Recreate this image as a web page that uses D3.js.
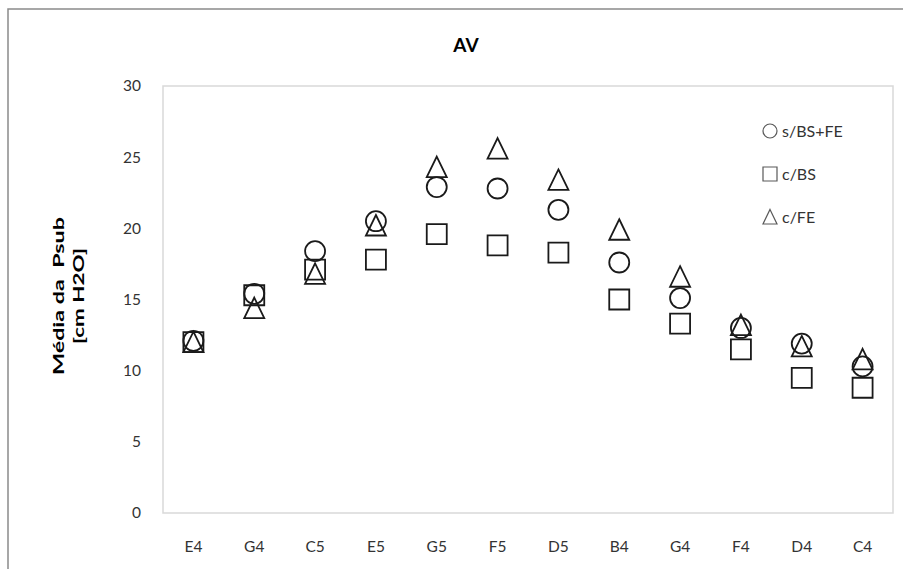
<!DOCTYPE html>
<html>
<head>
<meta charset="utf-8">
<script src="https://cdn.jsdelivr.net/npm/d3@7"></script>
<style>
  html, body { margin: 0; padding: 0; background: #fff; }
  svg { display: block; }
  text { font-family: Lato, "Open Sans", sans-serif; }
</style>
</head>
<body>
<svg id="chart" width="903" height="569"></svg>
<script>
// Notes played, in order
const notes = ["E4", "G4", "C5", "E5", "G5", "F5", "D5", "B4", "G4", "F4", "D4", "C4"];
// Mean subglottal pressure (cm H2O) per condition
const semBSFE = [12.1, 15.4, 18.4, 20.5, 22.9, 22.8, 21.3, 17.6, 15.1, 13.0, 11.9, 10.3];
const comBS   = [12.0, 15.3, 17.1, 17.8, 19.6, 18.8, 18.3, 15.0, 13.3, 11.5, 9.5, 8.8];
const comFE   = [12.0, 14.4, 16.8, 20.2, 24.3, 25.6, 23.4, 19.9, 16.6, 13.2, 11.7, 10.8];
const yTicks = [0, 5, 10, 15, 20, 25, 30];
const seriesNames = ["s/BS+FE", "c/BS", "c/FE"];

const series = [
  { name: seriesNames[0], values: semBSFE, shape: "circle" },
  { name: seriesNames[1], values: comBS, shape: "square" },
  { name: seriesNames[2], values: comFE, shape: "triangle" }
];

const svg = d3.select("#chart");
const plot = { left: 163, right: 893, top: 86, bottom: 513 };

// Outer chart frame
svg.append("rect")
  .attr("x", 8).attr("y", 9).attr("width", 920).attr("height", 600)
  .attr("fill", "#fff").attr("stroke", "#8a8a8a").attr("stroke-width", 1.5);

const x = d3.scaleBand().domain(d3.range(notes.length)).range([plot.left, plot.right]);
const y = d3.scaleLinear().domain([0, 30]).range([plot.bottom, plot.top]);

// Plot area border
svg.append("rect")
  .attr("x", plot.left).attr("y", plot.top)
  .attr("width", plot.right - plot.left).attr("height", plot.bottom - plot.top)
  .attr("fill", "none").attr("stroke", "#d9d9d9").attr("stroke-width", 1.5);

// Y axis tick labels
const yAxis = d3.axisLeft(y).tickValues(yTicks).tickSize(0).tickPadding(22);
svg.append("g").attr("transform", `translate(${plot.left},0)`).call(yAxis)
  .call(g => g.select(".domain").remove())
  .call(g => g.selectAll("text").attr("fill", "#333").style("font-size", "15.5px")
    .style("font-family", "Lato, 'Open Sans', sans-serif"));

// X axis category labels
const xAxis = d3.axisBottom(x).tickFormat(i => notes[i]).tickSize(0).tickPadding(28);
svg.append("g").attr("transform", `translate(0,${plot.bottom})`).call(xAxis)
  .call(g => g.select(".domain").remove())
  .call(g => g.selectAll("text").attr("fill", "#333").style("font-size", "15.5px")
    .style("font-family", "Lato, 'Open Sans', sans-serif"));

// Title
svg.append("text").attr("x", 466).attr("y", 52).attr("text-anchor", "middle")
  .attr("font-size", 19).attr("font-weight", "bold").attr("fill", "#000").text("AV");

// Y axis title, two lines
const yTitle = svg.append("text")
  .attr("transform", "translate(64,296) rotate(-90)")
  .attr("text-anchor", "middle").attr("font-size", 16).attr("font-weight", "bold").attr("fill", "#000");
yTitle.append("tspan").attr("x", 0).attr("dy", 0)
  .attr("textLength", 158).attr("lengthAdjust", "spacingAndGlyphs").text("Média da\u00a0 Psub");
yTitle.append("tspan").attr("x", 0).attr("dy", 20)
  .attr("textLength", 96).attr("lengthAdjust", "spacingAndGlyphs").text("[cm H2O]");

// Marker path generator, centred at origin
function markerPath(shape, s) {
  const h = s / 2;
  if (shape === "circle") {
    return `M${h},0 A${h},${h} 0 1,1 ${-h},0 A${h},${h} 0 1,1 ${h},0 Z`;
  }
  if (shape === "square") {
    return `M${-h},${-h} H${h} V${h} H${-h} Z`;
  }
  return `M0,${-h - 0.5} L${h},${h} L${-h},${h} Z`;
}

const cx = i => x(i) + x.bandwidth() / 2;

// Draw series: triangles first, then squares, then circles on top
[series[2], series[1], series[0]].forEach(s => {
  svg.append("g").selectAll("path").data(s.values).join("path")
    .attr("transform", (d, i) => `translate(${cx(i)},${y(d)})`)
    .attr("d", markerPath(s.shape, 20))
    .attr("fill", "none").attr("stroke", "#1a1a1a").attr("stroke-width", 1.8);
});

// Legend
const legend = svg.append("g");
series.forEach((s, k) => {
  const ly = 131 + k * 43;
  legend.append("path").attr("transform", `translate(770,${ly})`)
    .attr("d", markerPath(s.shape, 14))
    .attr("fill", "none").attr("stroke", "#595959").attr("stroke-width", 1.2);
  legend.append("text").attr("x", 782).attr("y", ly).attr("dy", "0.35em")
    .attr("font-size", 16).attr("fill", "#333").text(s.name);
});
</script>
</body>
</html>
